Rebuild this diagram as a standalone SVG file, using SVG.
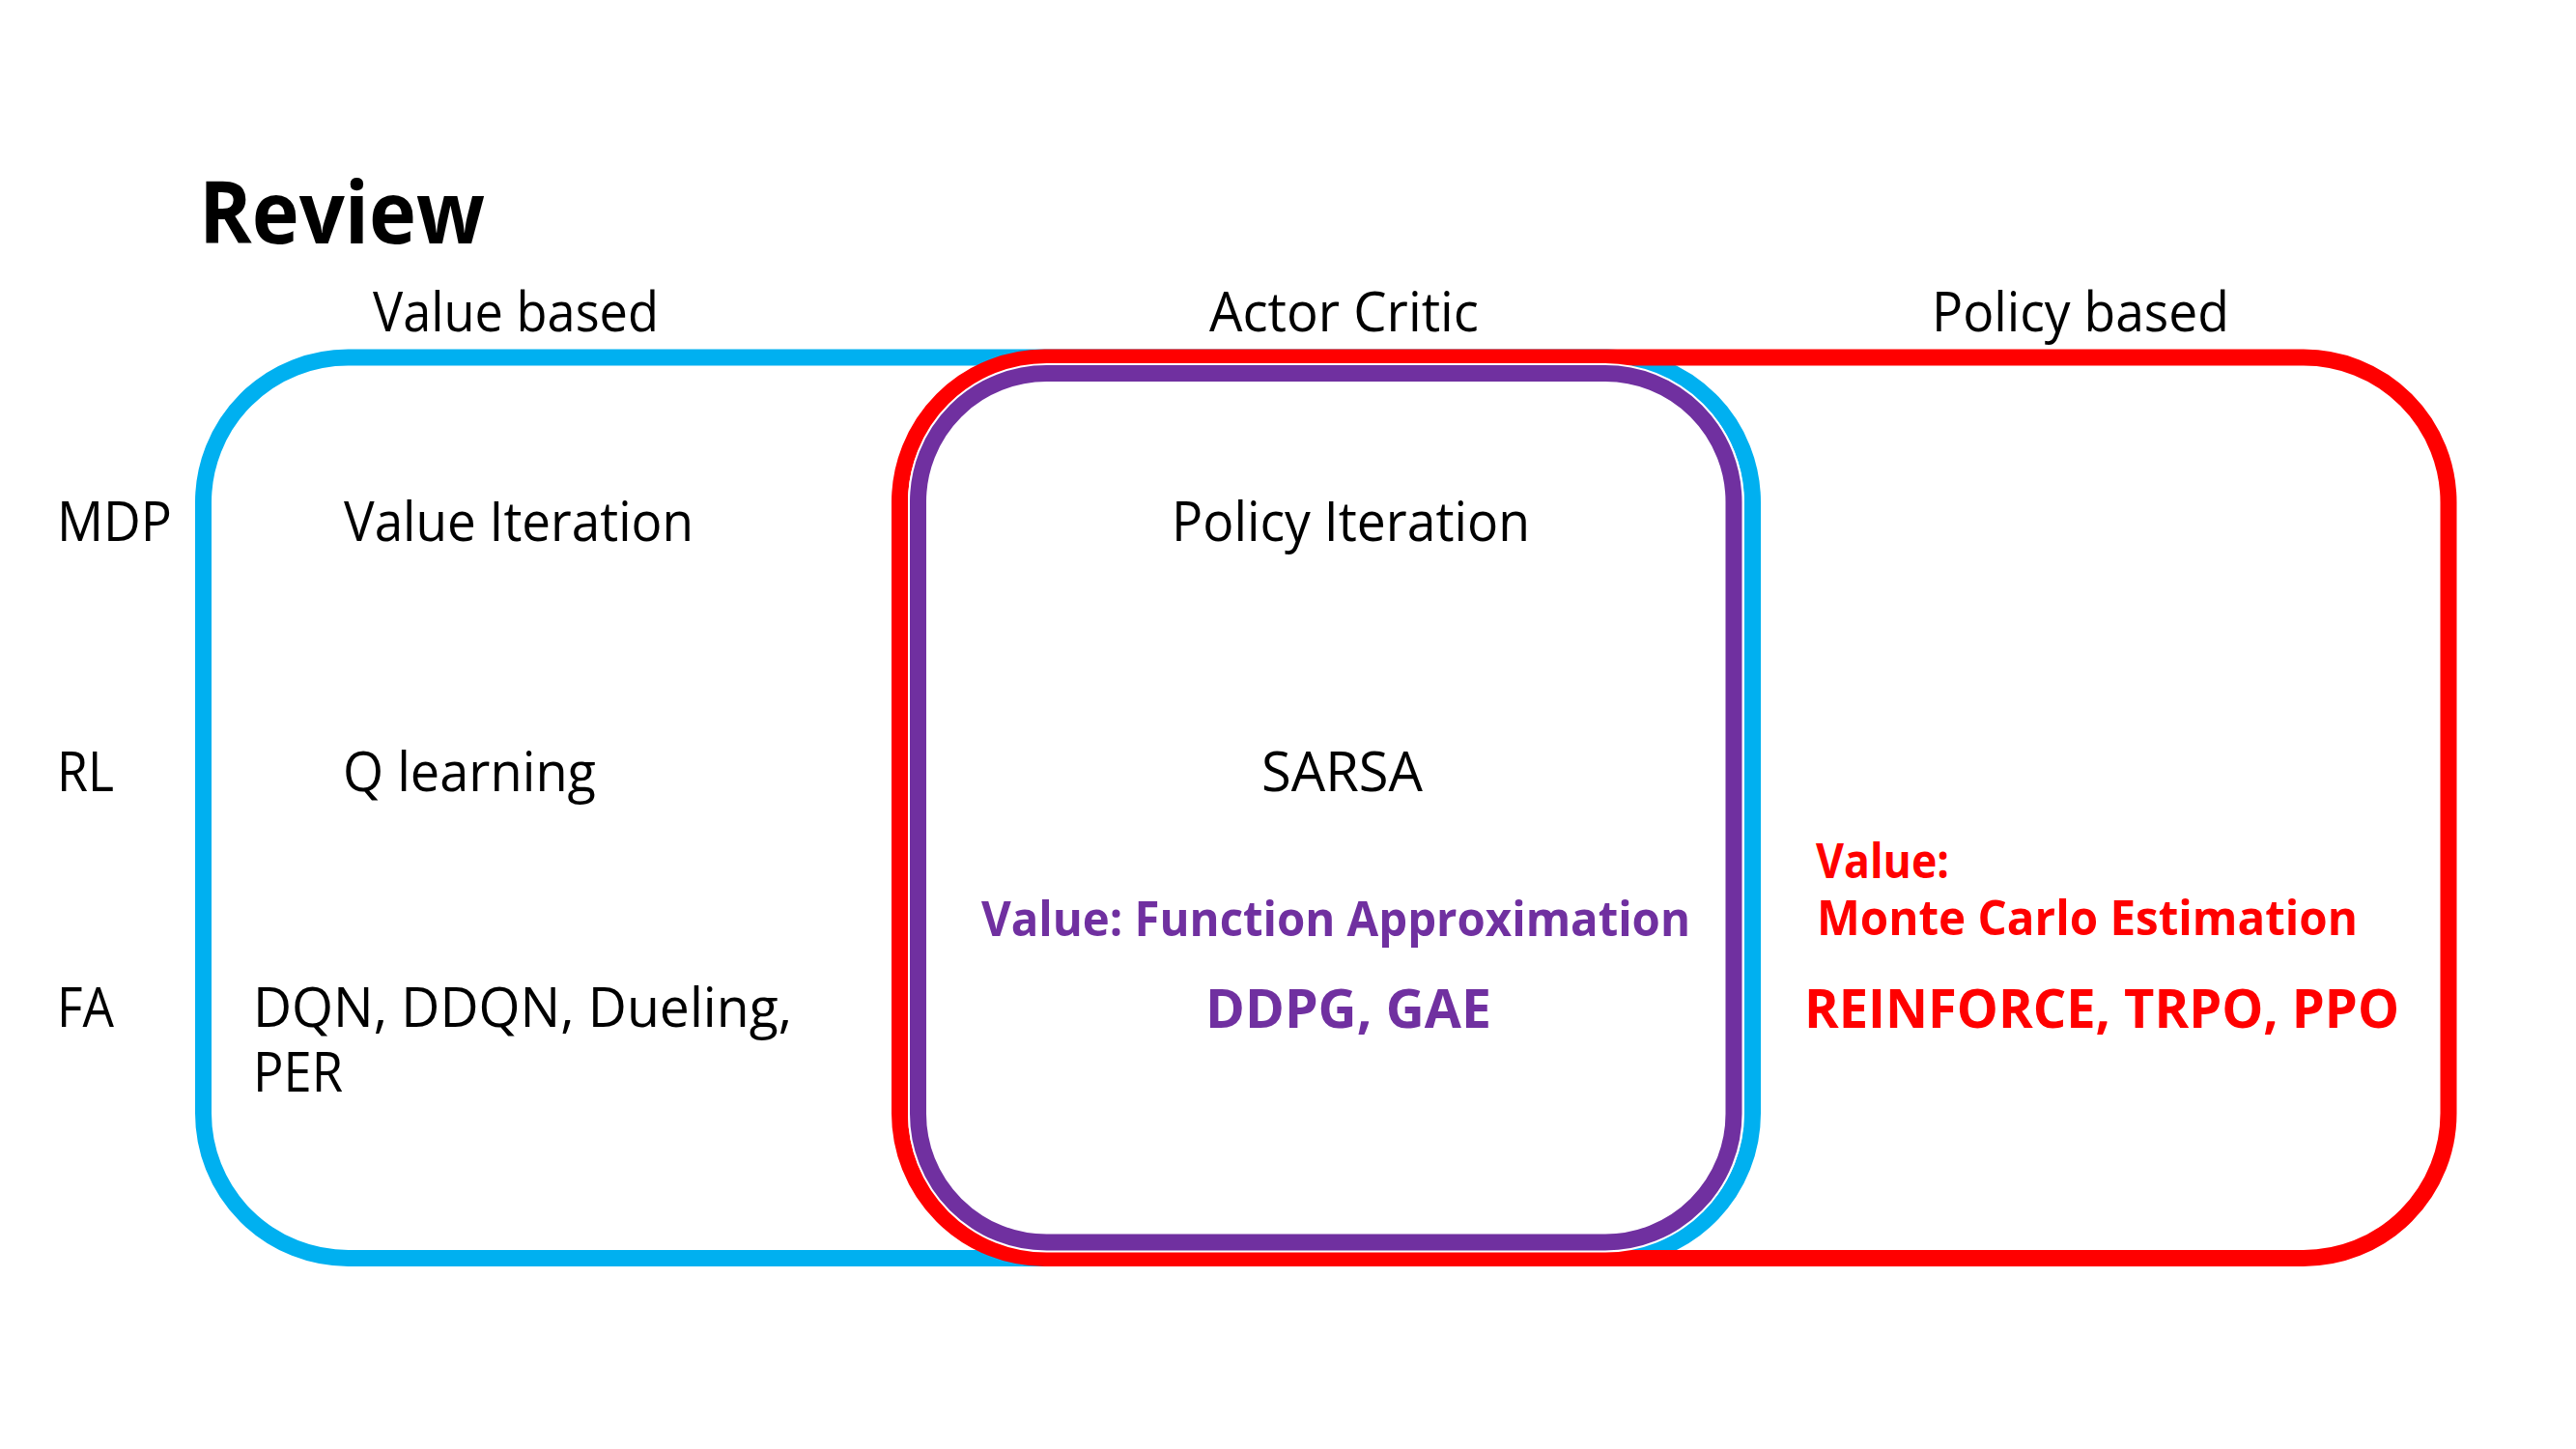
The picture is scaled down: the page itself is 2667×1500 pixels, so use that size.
<svg xmlns="http://www.w3.org/2000/svg" width="2667" height="1500" viewBox="0 0 2667 1500">
<style>
.t{font-family:"Open Sans","Noto Sans",sans-serif;font-size:56px;fill:#000}
.b{font-weight:bold}
.s{font-size:50px}
.h{font-size:90px}
.p{fill:#7030A0}
.r{fill:#FF0000}
.box{fill:none;stroke-width:17}
</style>
<rect width="2667" height="1500" fill="#fff"/>
<g id="value-based-box"><rect class="box" x="210.5" y="370" width="1604" height="932.5" rx="150" ry="150" stroke="#00B0F0"/></g>
<g id="policy-based-box"><rect class="box" x="931.5" y="370" width="1603.5" height="932.5" rx="150" ry="150" stroke="#FF0000"/></g>
<g id="actor-critic-box">
<rect x="950.5" y="386.5" width="844.5" height="899.5" rx="133" ry="133" fill="none" stroke="#fff" stroke-width="21"/>
<rect class="box" x="950.5" y="386.5" width="844.5" height="899.5" rx="133" ry="133" stroke="#7030A0"/>
</g>
<g id="connectors"></g>
<g id="title"><text class="t b h" x="206" y="252" textLength="296" lengthAdjust="spacingAndGlyphs">Review</text></g>
<g id="headers">
<text class="t" x="386" y="343" textLength="296" lengthAdjust="spacingAndGlyphs">Value based</text>
<text class="t" x="1252" y="343" textLength="279" lengthAdjust="spacingAndGlyphs">Actor Critic</text>
<text class="t" x="2000" y="343" textLength="308" lengthAdjust="spacingAndGlyphs">Policy based</text>
</g>
<g id="rows">
<text class="t" x="59" y="560" textLength="119" lengthAdjust="spacingAndGlyphs">MDP</text>
<text class="t" x="59" y="819" textLength="59" lengthAdjust="spacingAndGlyphs">RL</text>
<text class="t" x="59" y="1063" textLength="59" lengthAdjust="spacingAndGlyphs">FA</text>
</g>
<g id="value-items">
<text class="t" x="356" y="560" textLength="362" lengthAdjust="spacingAndGlyphs">Value Iteration</text>
<text class="t" x="355" y="819" textLength="262" lengthAdjust="spacingAndGlyphs">Q learning</text>
<text class="t" x="262" y="1063" textLength="558" lengthAdjust="spacingAndGlyphs">DQN, DDQN, Dueling,</text>
<text class="t" x="262" y="1130" textLength="93" lengthAdjust="spacingAndGlyphs">PER</text>
</g>
<g id="actor-critic-items">
<text class="t" x="1213" y="560" textLength="371" lengthAdjust="spacingAndGlyphs">Policy Iteration</text>
<text class="t" x="1306" y="819" textLength="167" lengthAdjust="spacingAndGlyphs">SARSA</text>
<text class="t b p s" x="1016" y="969" textLength="734" lengthAdjust="spacingAndGlyphs">Value: Function Approximation</text>
<text class="t b p" x="1248" y="1064" textLength="296" lengthAdjust="spacingAndGlyphs">DDPG, GAE</text>
</g>
<g id="policy-items">
<text class="t b r s" x="1880" y="909" textLength="138" lengthAdjust="spacingAndGlyphs">Value:</text>
<text class="t b r s" x="1881" y="968" textLength="560" lengthAdjust="spacingAndGlyphs">Monte Carlo Estimation</text>
<text class="t b r" x="1868" y="1064" textLength="616" lengthAdjust="spacingAndGlyphs">REINFORCE, TRPO, PPO</text>
</g>
</svg>
